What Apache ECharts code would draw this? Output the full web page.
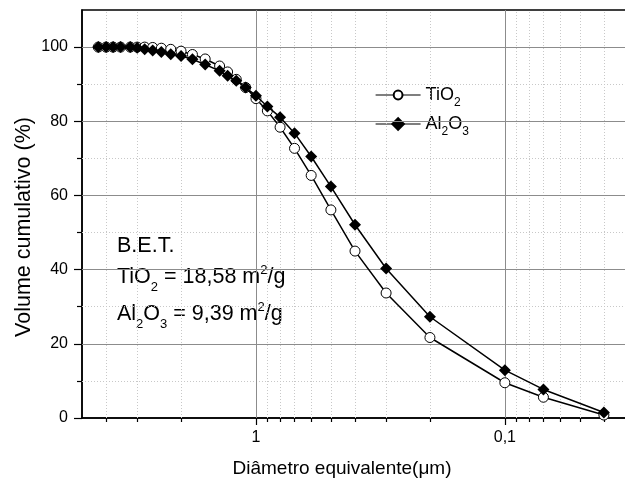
<!DOCTYPE html>
<html><head><meta charset="utf-8">
<script src="https://cdn.jsdelivr.net/npm/echarts@6/dist/echarts.min.js"></script>
<style>html,body{margin:0;padding:0;background:#fff}#c{width:625px;height:481px}</style>
</head><body><div id="c"></div>
<script>
// ---- data ----
const diameters = [4.3, 4.0, 3.75, 3.5, 3.2, 3.0, 2.8, 2.6, 2.4, 2.2, 2.0, 1.8, 1.6, 1.4, 1.3, 1.2, 1.1, 1.0, 0.9, 0.8, 0.7, 0.6, 0.5, 0.4, 0.3, 0.2, 0.1, 0.07, 0.04];
const tio2  = [100, 100, 100, 100, 100, 100, 100, 99.9, 99.7, 99.4, 98.9, 98.0, 96.8, 94.9, 93.3, 91.3, 89.1, 86.1, 82.8, 78.4, 72.7, 65.4, 56.1, 45.0, 33.7, 21.7, 9.5, 5.6, 0.8];
const al2o3 = [100, 100, 100, 100, 100, 99.8, 99.4, 99.1, 98.7, 98.1, 97.6, 96.7, 95.3, 93.6, 92.3, 90.9, 89.1, 86.9, 84.0, 81.1, 76.8, 70.5, 62.4, 52.1, 40.3, 27.3, 12.9, 7.7, 1.5];
const seriesNames = ['TiO2', 'Al2O3'];
const xMajorTicks = [1, 0.1];
const xMinorTicks = [4, 3, 2, 0.9, 0.8, 0.7, 0.6, 0.5, 0.4, 0.3, 0.2, 0.09, 0.08, 0.07, 0.06, 0.05, 0.04];
const yMajorTicks = [0, 20, 40, 60, 80, 100];
const yMinorTicks = [10, 30, 50, 70, 90];
const yTitle = 'Volume cumulativo (%)';
const xTitle = 'Diâmetro equivalente(μm)';
const betLines = ['B.E.T.', 'TiO{sub|2} = 18,58 m{sup|2}/g', 'Al{sub|2}O{sub|3} = 9,39 m{sup|2}/g'];

const FONT = "'Liberation Sans', Arial, sans-serif";
const chart = echarts.init(document.getElementById('c'), null, {renderer: 'canvas'});

const gridMarks = [];
xMinorTicks.forEach(v => gridMarks.push({xAxis: v, lineStyle: {type: [1, 2], color: '#c8c8c8', width: 1}}));
yMinorTicks.forEach(v => gridMarks.push({yAxis: v, lineStyle: {type: [1, 2], color: '#c8c8c8', width: 1}}));
xMajorTicks.forEach(v => gridMarks.push({xAxis: v, lineStyle: {type: 'solid', color: '#8c8c8c', width: 1}}));
yMajorTicks.filter(v => v > 0).forEach(v => gridMarks.push({yAxis: v, lineStyle: {type: 'solid', color: '#8c8c8c', width: 1}}));

const xBase = {
  type: 'log', logBase: 10, min: 0.03, max: 5, inverse: true, gridIndex: 0, position: 'bottom',
  splitLine: {show: false}, minorTick: {show: false}, minorSplitLine: {show: false}
};
const yBase = {type: 'value', min: 0, max: 110, position: 'left', splitLine: {show: false}};

const subRich = {
  sub: {fontSize: 13, fontFamily: FONT, fill: '#000', padding: [21, 0, 0, 0]},
  sup: {fontSize: 13, fontFamily: FONT, fill: '#000', padding: [0, 0, 13, 0]}
};
const legendText = {fontSize: 18, color: '#000', fontFamily: FONT,
  rich: {s: {fontSize: 12, color: '#000', fontFamily: FONT, padding: [16, 0, 0, 0]}}};
const legendFmt = n => n === 'TiO2' ? 'TiO{s|2}' : 'Al{s|2}O{s|3}';

chart.setOption({
  animation: false,
  backgroundColor: '#fff',
  grid: {left: 82, top: 10, width: 553, bottom: 63, outerBoundsMode: 'none', containLabel: false,
    show: true, borderColor: '#000', borderWidth: 1.5, backgroundColor: 'transparent'},
  xAxis: [
    Object.assign({}, xBase, {
      axisLine: {show: true, onZero: false, lineStyle: {color: '#000', width: 1.5}},
      axisTick: {show: true, inside: false, length: 7, customValues: xMajorTicks, lineStyle: {color: '#000', width: 1.2}},
      axisLabel: {show: true, customValues: xMajorTicks, margin: 12, fontSize: 16, color: '#000', fontFamily: FONT,
        formatter: v => String(+v.toPrecision(6)).replace('.', ',')}
    }),
    Object.assign({}, xBase, {
      axisLine: {show: false},
      axisTick: {show: true, inside: false, length: 4, customValues: xMinorTicks, lineStyle: {color: '#000', width: 1.2}},
      axisLabel: {show: false}
    })
  ],
  yAxis: [
    Object.assign({}, yBase, {
      axisLine: {show: true, onZero: false, lineStyle: {color: '#000', width: 1.5}},
      axisTick: {show: true, inside: false, length: 8, customValues: yMajorTicks, lineStyle: {color: '#000', width: 1.2}},
      axisLabel: {show: true, customValues: yMajorTicks, margin: 14, fontSize: 16, color: '#000', fontFamily: FONT}
    }),
    Object.assign({}, yBase, {
      axisLine: {show: false},
      axisTick: {show: true, inside: false, length: 5, customValues: yMinorTicks, lineStyle: {color: '#000', width: 1.2}},
      axisLabel: {show: false}
    })
  ],
  legend: [
    {data: [seriesNames[0]], left: 370, top: 81, itemWidth: 45, itemHeight: 11, padding: 5,
      lineStyle: {width: 1.2}, textStyle: legendText, formatter: legendFmt},
    {data: [seriesNames[1]], left: 370, top: 110, itemWidth: 45, itemHeight: 18, padding: 5,
      lineStyle: {width: 1.2}, textStyle: legendText, formatter: legendFmt}
  ],
  graphic: [
    {type: 'text', x: 24, y: 227, rotation: Math.PI / 2, silent: true,
      style: {text: yTitle, fontSize: 21.5, fontFamily: FONT, fill: '#000', align: 'center', verticalAlign: 'middle'}},
    {type: 'text', x: 342, y: 469, silent: true,
      style: {text: xTitle, fontSize: 19, fontFamily: FONT, fill: '#000', align: 'center', verticalAlign: 'middle'}},
    {type: 'text', x: 117, y: 246, silent: true,
      style: {text: betLines[0], fontSize: 21.5, fontFamily: FONT, fill: '#000', align: 'left', verticalAlign: 'middle'}},
    {type: 'text', x: 117, y: 277, silent: true,
      style: {text: betLines[1], fontSize: 21.5, fontFamily: FONT, fill: '#000', align: 'left', verticalAlign: 'middle', rich: subRich}},
    {type: 'text', x: 117, y: 314, silent: true,
      style: {text: betLines[2], fontSize: 21.5, fontFamily: FONT, fill: '#000', align: 'left', verticalAlign: 'middle', rich: subRich}}
  ],
  series: [
    {name: '_grid', type: 'line', xAxisIndex: 0, yAxisIndex: 0, data: [[1, 50]], symbol: 'none', silent: true,
      lineStyle: {opacity: 0}, z: 1,
      markLine: {silent: true, symbol: ['none', 'none'], label: {show: false}, animation: false, data: gridMarks}},
    {name: seriesNames[0], type: 'line', xAxisIndex: 0, yAxisIndex: 0, z: 5,
      data: diameters.map((d, i) => [d, tio2[i]]),
      symbol: 'circle', symbolSize: 10, showAllSymbol: true,
      itemStyle: {color: '#fff', borderColor: '#000', borderWidth: 1},
      lineStyle: {color: '#000', width: 1.5}},
    {name: seriesNames[1], type: 'line', xAxisIndex: 0, yAxisIndex: 0, z: 6,
      data: diameters.map((d, i) => [d, al2o3[i]]),
      symbol: 'diamond', symbolSize: 12, showAllSymbol: true,
      itemStyle: {color: '#000', borderColor: '#000', borderWidth: 0},
      lineStyle: {color: '#000', width: 1.5}}
  ]
});
</script></body></html>
